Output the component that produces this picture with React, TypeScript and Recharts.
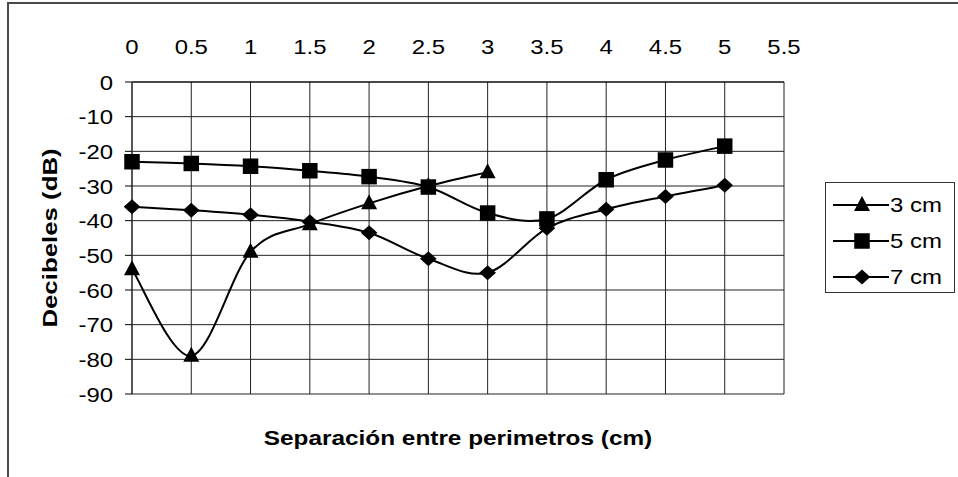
import React from "react";
import {
  LineChart,
  Line,
  XAxis,
  YAxis,
  CartesianGrid,
  Legend,
} from "recharts";

const separations = [0, 0.5, 1, 1.5, 2, 2.5, 3, 3.5, 4, 4.5, 5];
const cm3 = [-54, -79, -49, -41, -35, -30, -26, null, null, null, null];
const cm5 = [-23, -23.5, -24.3, -25.6, -27.3, -30.3, -37.8, -39.5, -28.2, -22.5, -18.5];
const cm7 = [-36, -37, -38.3, -40.3, -43.5, -51, -55, -42.2, -36.7, -33, -29.8];
const xTicks = [0, 0.5, 1, 1.5, 2, 2.5, 3, 3.5, 4, 4.5, 5, 5.5];
const yTicks = [0, -10, -20, -30, -40, -50, -60, -70, -80, -90];
const seriesNames = ["3 cm", "5 cm", "7 cm"];

const data = separations.map((x, i) => ({
  x,
  cm3: cm3[i],
  cm5: cm5[i],
  cm7: cm7[i],
}));

const FONT = "'Liberation Sans', Arial, sans-serif";
const FS = 21;
const SX = 1.14;

// smoothed line like the spreadsheet one (catmull-rom through the points)
const smooth = (context: any) => {
  let pts: number[][] = [];
  return {
    areaStart() {},
    areaEnd() {},
    lineStart() {
      pts = [];
    },
    point(x: number, y: number) {
      pts.push([+x, +y]);
    },
    lineEnd() {
      if (!pts.length) return;
      context.moveTo(pts[0][0], pts[0][1]);
      for (let i = 0; i < pts.length - 1; i++) {
        const p0 = pts[i - 1] || pts[i];
        const p1 = pts[i];
        const p2 = pts[i + 1];
        const p3 = pts[i + 2] || p2;
        context.bezierCurveTo(
          p1[0] + (p2[0] - p0[0]) / 6,
          p1[1] + (p2[1] - p0[1]) / 6,
          p2[0] - (p3[0] - p1[0]) / 6,
          p2[1] - (p3[1] - p1[1]) / 6,
          p2[0],
          p2[1]
        );
      }
    },
  };
};

const Marker = ({ shape, cx, cy }: any) => {
  if (shape === "triangle")
    return (
      <polygon
        points={`${cx},${cy - 9} ${cx - 8},${cy + 6} ${cx + 8},${cy + 6}`}
        fill="#000"
      />
    );
  if (shape === "square")
    return <rect x={cx - 7.75} y={cy - 7.75} width={15.5} height={15.5} fill="#000" />;
  return (
    <polygon
      points={`${cx},${cy - 7.5} ${cx + 8.3},${cy} ${cx},${cy + 7.5} ${cx - 8.3},${cy}`}
      fill="#000"
    />
  );
};

const makeDot = (shape: string) => (props: any) => {
  const { cx, cy, value, index } = props;
  if (value == null || cx == null || cy == null) return <g key={index} />;
  return (
    <g key={index}>
      <Marker shape={shape} cx={cx} cy={cy} />
    </g>
  );
};

const XTick = ({ x, y, payload }: any) => (
  <text
    transform={`translate(${x},${y}) scale(${SX},1)`}
    textAnchor="middle"
    fontFamily={FONT}
    fontSize={FS}
    fill="#000"
  >
    {payload.value}
  </text>
);

const YTick = ({ x, y, payload }: any) => (
  <text
    transform={`translate(${x},${y}) scale(${SX},1)`}
    textAnchor="end"
    dy="0.36em"
    fontFamily={FONT}
    fontSize={FS}
    fill="#000"
  >
    {payload.value}
  </text>
);

const shapes = ["triangle", "square", "diamond"];

const renderLegend = () => (
  <div
    style={{
      border: "1px solid #333",
      background: "#fff",
      width: 130,
      height: 111,
      boxSizing: "border-box",
      paddingTop: 4,
    }}
  >
    {seriesNames.map((name, i) => (
      <div key={name} style={{ display: "flex", alignItems: "center", height: 36 }}>
        <svg width={64} height={20} style={{ marginLeft: 7 }}>
          <line x1={0} y1={10} x2={56} y2={10} stroke="#000" strokeWidth={2} />
          <Marker shape={shapes[i]} cx={29} cy={10} />
        </svg>
        <span
          style={{
            fontFamily: FONT,
            fontSize: FS,
            display: "inline-block",
            transform: `scaleX(${SX})`,
            transformOrigin: "left center",
            marginLeft: -7,
            color: "#000",
          }}
        >
          {name}
        </span>
      </div>
    ))}
  </div>
);

export default function App() {
  return (
    <div style={{ position: "absolute", left: 0, top: 0, width: 958, height: 477, background: "#fff" }}>
      <div
        style={{
          position: "absolute",
          left: 7,
          top: 2,
          width: 960,
          height: 500,
          border: "2px solid #4a4a4a",
        }}
      />
      <div style={{ position: "absolute", left: 0, top: 0 }}>
        <LineChart
          width={958}
          height={477}
          data={data}
          margin={{ top: 0, right: 44, bottom: 83, left: 0 }}
        >
          <CartesianGrid stroke="#222" strokeWidth={1} />
          <XAxis
            dataKey="x"
            type="number"
            orientation="top"
            domain={[0, 5.5]}
            ticks={xTicks}
            interval={0}
            height={82}
            tickSize={0}
            tickMargin={28}
            axisLine={{ stroke: "#000" }}
            tickLine={false}
            tick={<XTick />}
            label={{
              content: (p: any) => {
                const vb = p.viewBox;
                return (
                  <text
                    transform={`translate(${vb.x + vb.width / 2},445) scale(1.16,1)`}
                    textAnchor="middle"
                    fontFamily={FONT}
                    fontSize={FS}
                    fontWeight="bold"
                    fill="#000"
                  >
                    Separación entre perimetros (cm)
                  </text>
                );
              },
            }}
          />
          <YAxis
            type="number"
            domain={[-90, 0]}
            ticks={yTicks}
            interval={0}
            width={132}
            tickSize={7}
            tickMargin={12}
            axisLine={{ stroke: "#444", strokeWidth: 1.5 }}
            tickLine={{ stroke: "#000" }}
            tick={<YTick />}
            label={{
              content: (p: any) => {
                const vb = p.viewBox;
                return (
                  <text
                    transform={`translate(57,${vb.y + vb.height / 2}) rotate(-90) scale(1.23,1)`}
                    textAnchor="middle"
                    fontFamily={FONT}
                    fontSize={FS}
                    fontWeight="bold"
                    fill="#000"
                  >
                    Decibeles (dB)
                  </text>
                );
              },
            }}
          />
          <Legend
            layout="vertical"
            align="right"
            verticalAlign="middle"
            content={renderLegend}
            wrapperStyle={{ position: "absolute", left: 825, top: 182, width: 130, height: 111 }}
          />
          <Line
            dataKey="cm3"
            name={seriesNames[0]}
            type={smooth as any}
            stroke="#000"
            strokeWidth={2}
            dot={makeDot("triangle")}
            activeDot={false}
            isAnimationActive={false}
          />
          <Line
            dataKey="cm5"
            name={seriesNames[1]}
            type={smooth as any}
            stroke="#000"
            strokeWidth={2}
            dot={makeDot("square")}
            activeDot={false}
            isAnimationActive={false}
          />
          <Line
            dataKey="cm7"
            name={seriesNames[2]}
            type={smooth as any}
            stroke="#000"
            strokeWidth={2}
            dot={makeDot("diamond")}
            activeDot={false}
            isAnimationActive={false}
          />
        </LineChart>
      </div>
    </div>
  );
}
